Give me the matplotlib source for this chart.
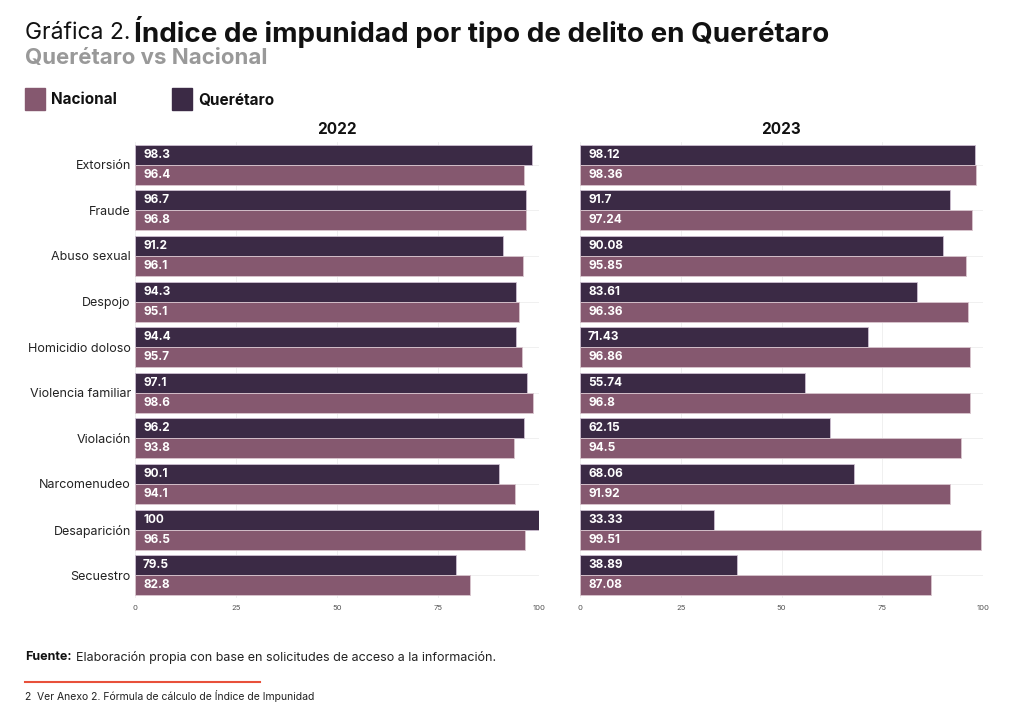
import matplotlib
matplotlib.use('Agg')
import matplotlib.pyplot as plt
import numpy as np

plt.rcParams['font.family'] = ['Inter', 'DejaVu Sans']

delitos = ['Extorsión', 'Fraude', 'Abuso sexual', 'Despojo', 'Homicidio doloso',
           'Violencia familiar', 'Violación', 'Narcomenudeo', 'Desaparición', 'Secuestro']

qro_2022 = [98.3, 96.7, 91.2, 94.3, 94.4, 97.1, 96.2, 90.1, 100, 79.5]
nac_2022 = [96.4, 96.8, 96.1, 95.1, 95.7, 98.6, 93.8, 94.1, 96.5, 82.8]
qro_2023 = [98.12, 91.7, 90.08, 83.61, 71.43, 55.74, 62.15, 68.06, 33.33, 38.89]
nac_2023 = [98.36, 97.24, 95.85, 96.36, 96.86, 96.8, 94.5, 91.92, 99.51, 87.08]

lbl_qro_2022 = ['98.3', '96.7', '91.2', '94.3', '94.4', '97.1', '96.2', '90.1', '100', '79.5']
lbl_nac_2022 = ['96.4', '96.8', '96.1', '95.1', '95.7', '98.6', '93.8', '94.1', '96.5', '82.8']
lbl_qro_2023 = ['98.12', '91.7', '90.08', '83.61', '71.43', '55.74', '62.15', '68.06', '33.33', '38.89']
lbl_nac_2023 = ['98.36', '97.24', '95.85', '96.36', '96.86', '96.8', '94.5', '91.92', '99.51', '87.08']

c_qro = '#3b2a45'
c_nac = '#85586f'

W, H = 1024, 722
fig = plt.figure(figsize=(W / 100, H / 100), dpi=100)


def px(x, y):
    return x / W, 1 - y / H


def panel(left_px, right_px, qro, nac, lq, ln, year, show_labels):
    top, bottom = 142, 598
    ax = fig.add_axes([left_px / W, 1 - bottom / H, (right_px - left_px) / W, (bottom - top) / H])
    y = np.arange(len(delitos))
    h = 0.44
    ax.barh(y - h / 2, qro, height=h, color=c_qro, edgecolor='#cdbfd0', linewidth=0.6, zorder=2)
    ax.barh(y + h / 2, nac, height=h, color=c_nac, edgecolor='#d9c6cf', linewidth=0.6, zorder=2)
    for i in range(len(delitos)):
        ax.text(2, y[i] - h / 2, lq[i], color='white', fontsize=8.5, fontweight='bold',
                va='center', ha='left', zorder=3)
        ax.text(2, y[i] + h / 2, ln[i], color='white', fontsize=8.5, fontweight='bold',
                va='center', ha='left', zorder=3)
    ax.set_ylim(len(delitos) - 0.5, -0.5)
    ax.set_xlim(0, 100)
    ax.set_xticks([0, 25, 50, 75, 100])
    ax.set_xticklabels(['0', '25', '50', '75', '100'], fontsize=5.5, color='#555555')
    ax.tick_params(axis='x', length=0, pad=5)
    ax.set_yticks(y)
    if show_labels:
        ax.set_yticklabels(delitos, fontsize=9, color='#222222')
    else:
        ax.set_yticklabels([])
    ax.tick_params(axis='y', length=0, pad=3)
    ax.grid(True, color='#eeeeee', linewidth=0.6, zorder=0)
    ax.set_axisbelow(True)
    for s in ax.spines.values():
        s.set_visible(False)
    ax.set_title(year, fontsize=11, fontweight='bold', color='#111111', pad=6)
    return ax


panel(135, 539, qro_2022, nac_2022, lbl_qro_2022, lbl_nac_2022, '2022', True)
panel(580, 983, qro_2023, nac_2023, lbl_qro_2023, lbl_nac_2023, '2023', False)

# Title
renderer = fig.canvas.get_renderer()
t1 = fig.text(*px(25, 33), 'Gráfica 2.', fontsize=16.5, color='#111111', va='center', ha='left')
bb = t1.get_window_extent(renderer)
fig.text(bb.x1 / W + 4 / W, 1 - 32 / H, 'Índice de impunidad por tipo de delito en Querétaro',
         fontsize=20, fontweight='bold', color='#111111', va='center', ha='left')
fig.text(*px(25, 58), 'Querétaro vs Nacional', fontsize=16, fontweight='bold',
         color='#999999', va='center', ha='left')

# Legend
for x0, name, col in [(25, 'Nacional', c_nac), (172, 'Querétaro', c_qro)]:
    fig.patches.append(plt.Rectangle(px(x0, 110), 20 / W, 22 / H, transform=fig.transFigure,
                                     color=col, figure=fig))
    fig.text(*px(x0 + 26, 100), name, fontsize=11, fontweight='bold', color='#111111',
             va='center', ha='left')

# Source
t2 = fig.text(*px(25, 657), 'Fuente:', fontsize=9, fontweight='bold', color='#111111',
              va='center', ha='left')
bb2 = t2.get_window_extent(renderer)
fig.text(bb2.x1 / W + 4 / W, 1 - 657 / H, 'Elaboración propia con base en solicitudes de acceso a la información.',
         fontsize=9, color='#222222', va='center', ha='left')

fig.add_artist(plt.Line2D([25 / W, 260 / W], [1 - 682 / H, 1 - 682 / H], transform=fig.transFigure,
                          color='#e8503a', linewidth=1.5))
fig.text(*px(25, 696), '2  Ver Anexo 2. Fórmula de cálculo de Índice de Impunidad', fontsize=7.5,
         color='#222222', va='center', ha='left')

fig.savefig('out.png', dpi=100, facecolor='white')
